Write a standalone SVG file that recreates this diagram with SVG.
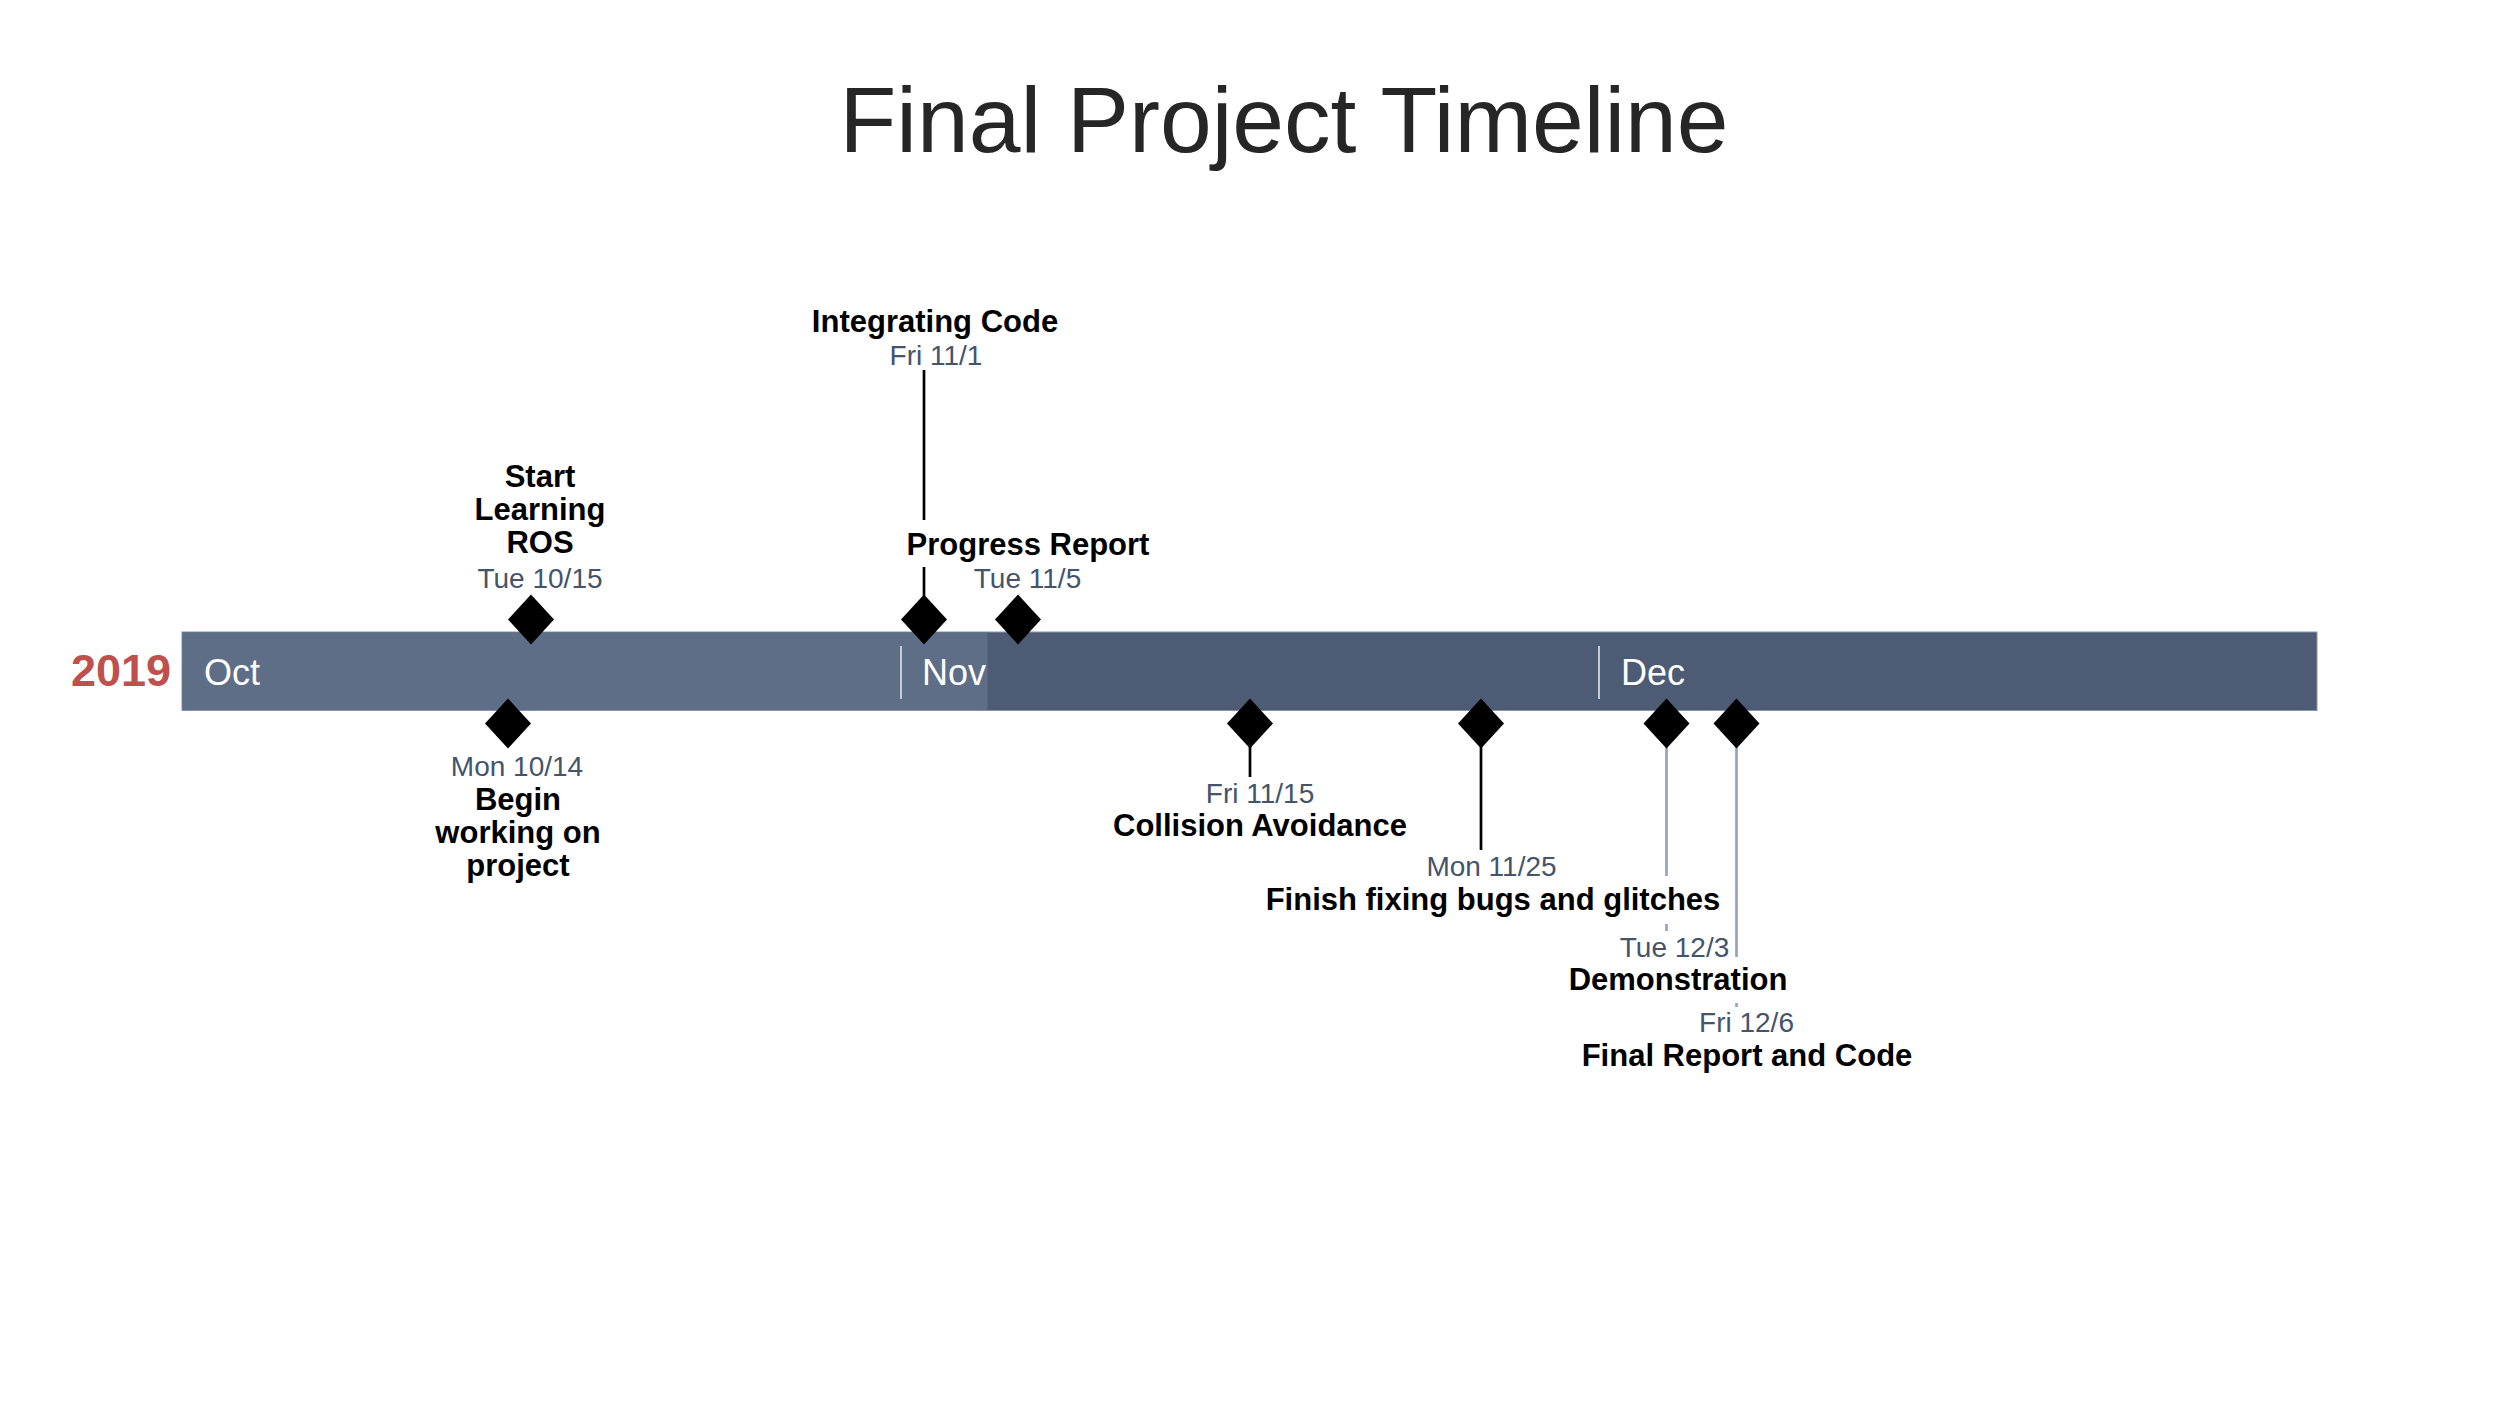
<svg xmlns="http://www.w3.org/2000/svg" width="2500" height="1406" viewBox="0 0 2500 1406">
<style>
  text { font-family: "Liberation Sans", Arial, sans-serif; }
  .title { font-size: 93px; fill: #262626; text-anchor: middle; }
  .year { font-size: 45px; font-weight: bold; fill: #C0504D; text-anchor: end; }
  .month { font-size: 36px; fill: #FFFFFF; }
  .lbl { font-size: 31px; font-weight: bold; fill: #000000; text-anchor: middle; }
  .date { font-size: 28px; fill: #44546A; text-anchor: middle; }
  .sep { stroke: #C5CBD5; stroke-width: 2; }
  .ln { stroke: #000000; stroke-width: 2.7; fill: none; }
  .lnl { stroke: #96A3C0; stroke-width: 2.7; fill: none; }
</style>
<defs>
  <polygon id="dia" points="0,-25 23,0 0,25 -23,0" fill="#000000"/>
</defs>
<rect width="2500" height="1406" fill="#FFFFFF"/>
<text class="title" x="1284" y="152">Final Project Timeline</text>

<g id="timeline-bar">
  <rect x="182" y="632" width="2135" height="78.5" fill="#4D5C74" stroke="#8794AB" stroke-width="1"/>
  <rect x="182.5" y="632.5" width="805" height="77.5" fill="#5F6E87"/>
  <line class="sep" x1="901" y1="646" x2="901" y2="699"/>
  <line class="sep" x1="1599" y1="646" x2="1599" y2="699"/>
  <text class="month" x="204" y="685">Oct</text>
  <text class="month" x="922" y="685">Nov</text>
  <text class="month" x="1621" y="685">Dec</text>
  <text class="year" x="171" y="686">2019</text>
</g>

<g id="connectors">
  <line class="ln" x1="924" y1="370" x2="924" y2="520"/>
  <line class="ln" x1="924" y1="567" x2="924" y2="596"/>
  <line class="ln" x1="1250" y1="746" x2="1250" y2="777"/>
  <line class="ln" x1="1481" y1="746" x2="1481" y2="850"/>
  <line class="lnl" x1="1666.5" y1="746" x2="1666.5" y2="876"/>
  <line class="lnl" x1="1666.5" y1="924" x2="1666.5" y2="931"/>
  <line class="lnl" x1="1736.5" y1="746" x2="1736.5" y2="957"/>
  <line class="lnl" x1="1736.5" y1="1003" x2="1736.5" y2="1007"/>
</g>

<g id="m-tue-1015">
  <use href="#dia" x="531" y="619.5"/>
  <text class="lbl" x="540" y="487">Start</text>
  <text class="lbl" x="540" y="520">Learning</text>
  <text class="lbl" x="540" y="553">ROS</text>
  <text class="date" x="540" y="588">Tue 10/15</text>
</g>

<g id="m-fri-111">
  <use href="#dia" x="924" y="619.5"/>
  <text class="lbl" x="935" y="332">Integrating Code</text>
  <text class="date" x="936" y="365">Fri 11/1</text>
</g>

<g id="m-tue-115">
  <use href="#dia" x="1018" y="619.5"/>
  <text class="lbl" x="1028" y="555">Progress Report</text>
  <text class="date" x="1027.5" y="588">Tue 11/5</text>
</g>

<g id="m-mon-1014">
  <use href="#dia" x="508" y="723.5"/>
  <text class="date" x="517" y="776">Mon 10/14</text>
  <text class="lbl" x="518" y="810">Begin</text>
  <text class="lbl" x="518" y="843">working on</text>
  <text class="lbl" x="518" y="876">project</text>
</g>

<g id="m-fri-1115">
  <use href="#dia" x="1250" y="723.5"/>
  <text class="date" x="1260" y="803">Fri 11/15</text>
  <text class="lbl" x="1260" y="836">Collision Avoidance</text>
</g>

<g id="m-mon-1125">
  <use href="#dia" x="1481" y="723.5"/>
  <text class="date" x="1491.5" y="876">Mon 11/25</text>
  <text class="lbl" x="1493" y="910">Finish fixing bugs and glitches</text>
</g>

<g id="m-tue-123">
  <use href="#dia" x="1666.5" y="723.5"/>
  <text class="date" x="1674.5" y="957">Tue 12/3</text>
  <text class="lbl" x="1678" y="990">Demonstration</text>
</g>

<g id="m-fri-126">
  <use href="#dia" x="1736.5" y="723.5"/>
  <text class="date" x="1746.5" y="1032">Fri 12/6</text>
  <text class="lbl" x="1747" y="1066">Final Report and Code</text>
</g>
</svg>
